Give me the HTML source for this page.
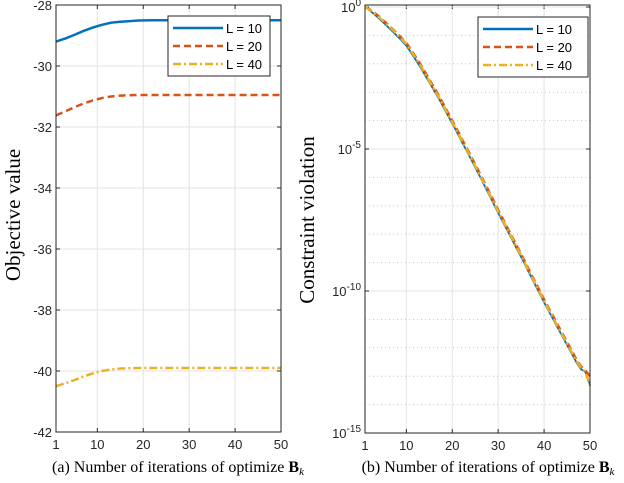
<!DOCTYPE html>
<html><head><meta charset="utf-8"><style>
body{margin:0;background:#fff;}
svg text{font-family:"Liberation Sans",sans-serif;}
.serif{font-family:"Liberation Serif",serif !important;}
</style></head><body>
<svg id="c" width="624" height="478" viewBox="0 0 624 478" xmlns="http://www.w3.org/2000/svg"></svg>
<script>
const iters=[1,3,5,7,9,11,13,15,17,19,22,25,30,35,40,45,50];
const objL10=[-29.2,-29.1,-28.98,-28.85,-28.74,-28.65,-28.58,-28.55,-28.53,-28.51,-28.5,-28.5,-28.5,-28.5,-28.5,-28.5,-28.5];
const objL20=[-31.62,-31.49,-31.35,-31.23,-31.13,-31.05,-31.0,-30.97,-30.96,-30.95,-30.95,-30.95,-30.95,-30.95,-30.95,-30.95,-30.95];
const objL40=[-40.5,-40.4,-40.3,-40.18,-40.08,-40.0,-39.95,-39.92,-39.91,-39.9,-39.9,-39.9,-39.9,-39.9,-39.9,-39.9,-39.9];
const cvIters=[1,2,3,4,5,6,7,8,9,10,11,12,13,14,15,16,17,18,19,20,21,22,23,24,25,26,27,28,29,30,31,32,33,34,35,36,37,38,39,40,41,42,43,44,45,46,47,48,49,50];
const cvL10=[0,-0.12,-0.25,-0.4,-0.55,-0.7,-0.86,-1.02,-1.18,-1.36,-1.6,-1.85,-2.1,-2.38,-2.65,-2.93,-3.2,-3.5,-3.8,-4.1,-4.4,-4.72,-5.02,-5.33,-5.65,-5.96,-6.28,-6.6,-6.92,-7.25,-7.56,-7.87,-8.18,-8.5,-8.8,-9.12,-9.45,-9.76,-10.08,-10.4,-10.7,-11.0,-11.3,-11.6,-11.9,-12.2,-12.5,-12.75,-12.85,-13.3];
const cvL20=[0,-0.08,-0.2,-0.33,-0.48,-0.62,-0.78,-0.93,-1.1,-1.27,-1.5,-1.75,-2.0,-2.27,-2.55,-2.83,-3.1,-3.4,-3.7,-4.0,-4.3,-4.62,-4.92,-5.23,-5.55,-5.86,-6.18,-6.5,-6.82,-7.15,-7.46,-7.77,-8.08,-8.4,-8.7,-9.02,-9.35,-9.66,-9.98,-10.3,-10.6,-10.9,-11.2,-11.5,-11.8,-12.1,-12.4,-12.65,-12.8,-13.0];
const cvL40=[0,-0.1,-0.22,-0.36,-0.5,-0.65,-0.8,-0.97,-1.13,-1.3,-1.54,-1.79,-2.04,-2.32,-2.6,-2.88,-3.15,-3.45,-3.75,-4.05,-4.35,-4.67,-4.97,-5.28,-5.6,-5.91,-6.23,-6.55,-6.87,-7.2,-7.51,-7.82,-8.13,-8.45,-8.75,-9.07,-9.4,-9.71,-10.03,-10.35,-10.65,-10.95,-11.25,-11.55,-11.85,-12.15,-12.45,-12.7,-12.85,-13.35];
const xTicks=[1,10,20,30,40,50];
const leftYTicks=[-28,-30,-32,-34,-36,-38,-40,-42];
const rightYTicks=[0,-5,-10,-15];
const seriesNames=["L = 10","L = 20","L = 40"];

const NS="http://www.w3.org/2000/svg";
const svg=document.getElementById('c');
function el(tag,attrs,parent){const e=document.createElementNS(NS,tag);for(const k in attrs)e.setAttribute(k,attrs[k]);(parent||svg).appendChild(e);return e;}
const colors=["#0072BD","#D95319","#EDB120"];
const dashes=["","7,4","8,3,2,3"];

const L={x0:56,x1:281,y0:5,y1:432};
const lx=v=>L.x0+(v-1)/49*(L.x1-L.x0);
const ly=v=>L.y0+(-28-v)/14*(L.y1-L.y0);
const R={x0:365,x1:590,y0:5,y1:433};
const rx=v=>R.x0+(v-1)/49*(R.x1-R.x0);
const ry=v=>R.y0+(0.07-v)/15.07*(R.y1-R.y0);

function axes(name){
  const g=el('g',{});
  
  
  return g;
}
const gl=axes('left-axes');
const gr=axes('right-axes');
xTicks.forEach(t=>{
  [[gl,lx,L],[gr,rx,R]].forEach(([g,f,A])=>{
    const x=f(t);
    const ln=el('line',{x1:x,x2:x,y1:A.y0,y2:A.y1,stroke:'#e3e3e3','stroke-width':1},g);
    
    
    const tx=el('text',{x:x,y:A.y1+17,'font-size':13,'text-anchor':'middle',fill:'#262626'},g);
    tx.textContent=t;
    
    
    el('line',{x1:x,x2:x,y1:A.y1,y2:A.y1-4,stroke:'#262626'},g);
    el('line',{x1:x,x2:x,y1:A.y0,y2:A.y0+4,stroke:'#262626'},g);
  });
});
leftYTicks.forEach(t=>{
  const y=ly(t);
  const ln=el('line',{x1:L.x0,x2:L.x1,y1:y,y2:y,stroke:'#e3e3e3'},gl);
  
  
  el('line',{x1:L.x0,x2:L.x0+4,y1:y,y2:y,stroke:'#262626'},gl);
  el('line',{x1:L.x1,x2:L.x1-4,y1:y,y2:y,stroke:'#262626'},gl);
  const tx=el('text',{x:L.x0-4,y:y+5,'font-size':13,'text-anchor':'end',fill:'#262626'},gl);
  tx.textContent=t;
  
  
});
for(let d=0;d>=-15;d--){
  const y=ry(d);
  const major=d%5===0;
  const ln=el('line',{x1:R.x0,x2:R.x1,y1:y,y2:y,stroke:major?'#e3e3e3':'#c8c8c8','stroke-dasharray':major?'':'1,3'},gr);
  
  
}
rightYTicks.forEach(t=>{
  const y=ry(t);
  el('line',{x1:R.x0,x2:R.x0+4,y1:y,y2:y,stroke:'#262626'},gr);
  el('line',{x1:R.x1,x2:R.x1-4,y1:y,y2:y,stroke:'#262626'},gr);
  const tx=el('text',{x:R.x0-4,y:y+5,'font-size':13,'text-anchor':'end',fill:'#262626'},gr);
  tx.innerHTML='10<tspan dy="-6" font-size="10">'+t+'</tspan>';
  
  
});
[objL10,objL20,objL40].forEach((s,i)=>{
  const p=el('polyline',{points:s.map((v,j)=>lx(iters[j])+','+ly(v)).join(' '),fill:'none',stroke:colors[i],'stroke-width':2.5,'stroke-dasharray':dashes[i],'stroke-linejoin':'round'},gl);
  
  
});
[cvL10,cvL20,cvL40].forEach((s,i)=>{
  const p=el('polyline',{points:s.map((v,j)=>rx(cvIters[j])+','+ry(v)).join(' '),fill:'none',stroke:colors[i],'stroke-width':i==0?1.8:2.5,'stroke-dasharray':dashes[i]},gr);
  
  
});
[[gl,L],[gr,R]].forEach(([g,A])=>{
  el('rect',{x:A.x0,y:A.y0,width:A.x1-A.x0,height:A.y1-A.y0,fill:'none',stroke:'#262626','stroke-width':1},g);
});
function legend(g,x,y,w){
  const lg=el('g',{},g);
  
  
  el('rect',{x:x,y:y,width:w,height:60,fill:'#fff',stroke:'#262626'},lg);
  seriesNames.forEach((n,i)=>{
    const yy=y+12+i*18;
    el('line',{x1:x+5,x2:x+55,y1:yy,y2:yy,stroke:colors[i],'stroke-width':2.5,'stroke-dasharray':dashes[i]},lg);
    const t=el('text',{x:x+58,y:yy+5,'font-size':13,fill:'#000'},lg);
    t.textContent=n;
    
    
  });
}
legend(gl,168,16,102);
legend(gr,478,17,110);
function txt(x,y,s,size,rot,name){
  const t=el('text',{x:x,y:y,'font-size':size,'text-anchor':'middle',fill:'#000',class:'serif'});
  if(rot)t.setAttribute('transform','rotate(-90 '+x+' '+y+')');
  t.innerHTML=s;
  
  
}
txt(20,215,'Objective value',21,true,'left-y-axis-title');
txt(314,220,'Constraint violation',21,true,'right-y-axis-title');
txt(178,472,'(a) Number of iterations of optimize <tspan font-weight="bold">B</tspan><tspan font-style="italic" font-size="11" dy="3">k</tspan>',16,false,'left-caption');
txt(488,472,'(b) Number of iterations of optimize <tspan font-weight="bold">B</tspan><tspan font-style="italic" font-size="11" dy="3">k</tspan>',16,false,'right-caption');
</script>
</body></html>
